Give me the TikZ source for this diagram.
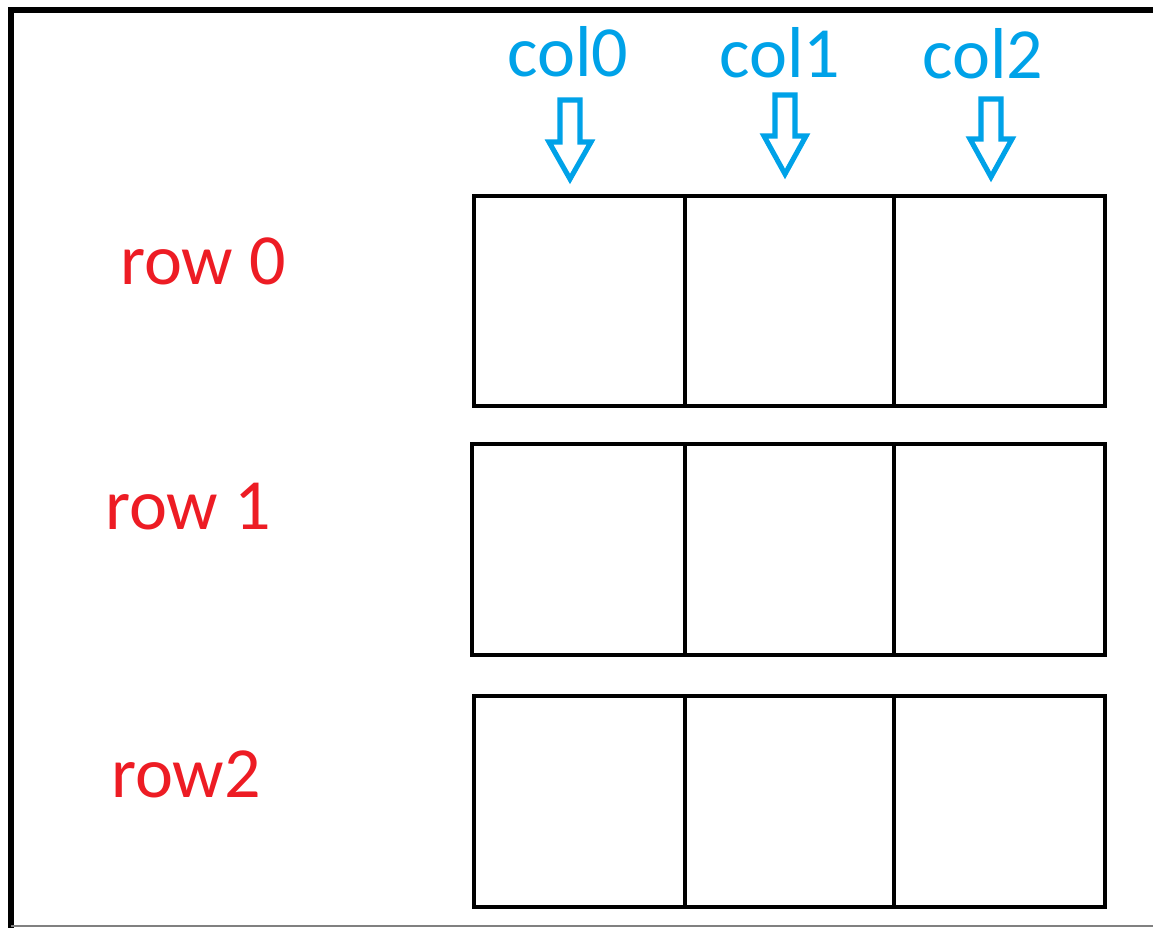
\documentclass[tikz,border=0pt]{standalone}
\usepackage{fontspec}
\setmainfont{Carlito}
\definecolor{rowred}{HTML}{ED1C24}
\definecolor{colblue}{HTML}{00A2E8}
\tikzset{
  cellline/.style={line width=2.8pt, line join=miter},
  rowlabel/.style={text=rowred, anchor=base, font=\fontsize{41}{49}\selectfont},
  collabel/.style={text=colblue, anchor=base, font=\fontsize{41}{49}\selectfont},
  blockarrow/.style={draw=colblue, line width=2.9pt, line join=miter}
}
\begin{document}
\begin{tikzpicture}[x=0.02cm,y=-0.02cm]
\useasboundingbox (0,0) rectangle (1153,928);
  % Draw outer frame
  \draw[line width=3pt] (1153,10) -- (11,10) -- (11,928);
  \draw[gray, line width=0.6pt] (11,926) -- (1153,926);
  % Draw the three rows of cells
  \foreach \i/\l/\t/\b in {0/474/196/406,1/472/444/655,2/474/696/907} {
    \draw[cellline] (\l,\t) rectangle (1105,\b);
    \foreach \x in {685,894}
      \draw[cellline] (\x,\t) -- (\x,\b);
    \coordinate (r\i) at (\l,\t);
  }
  % Draw row labels
  \node[rowlabel] (row0) at (203,285) {row 0};
  \node[rowlabel] (row1) at (188,530) {row 1};
  \node[rowlabel] (row2) at (186,797) {row2};
  % Draw column labels
  \node[collabel] (col0) at (568,77) {col0};
  \node[collabel] (col1) at (780,78) {col1};
  \node[collabel] (col2) at (983,79) {col2};
  % Draw column arrows
  \foreach \cx/\t/\h/\tip in {570/100/142/179,785/95/136/174,991/99/139/177}
    \draw[blockarrow] (\cx-10,\t) -- (\cx+10,\t) -- (\cx+10,\h) -- (\cx+21,\h)
      -- (\cx,\tip) -- (\cx-21,\h) -- (\cx-10,\h) -- cycle;
\end{tikzpicture}
\end{document}
